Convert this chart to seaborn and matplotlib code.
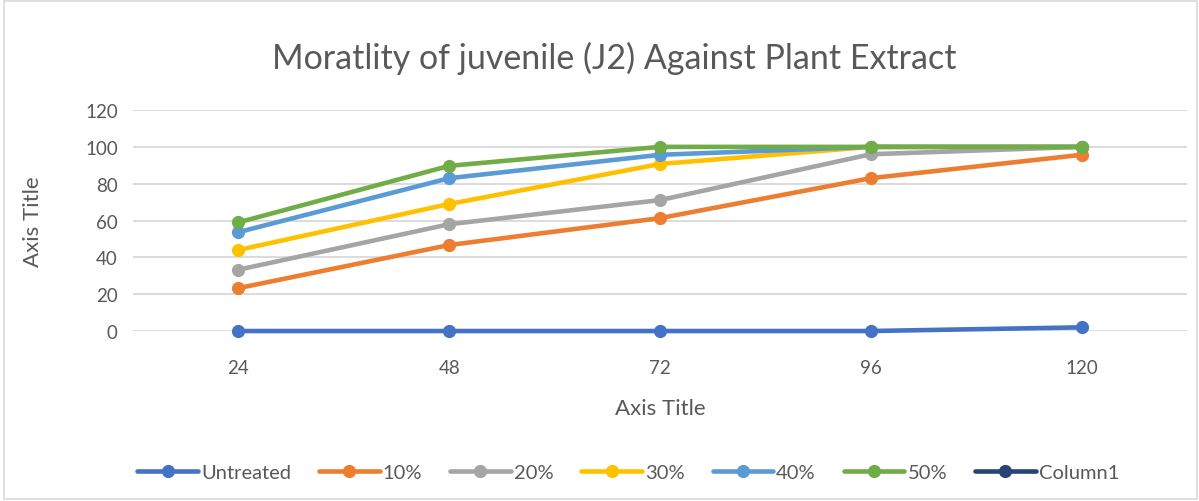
import matplotlib
matplotlib.use("Agg")
import matplotlib.pyplot as plt
from matplotlib.lines import Line2D
from matplotlib.patches import Rectangle
import seaborn as sns
import pandas as pd

hours = ["24", "48", "72", "96", "120"]
untreated = [0, 0, 0, 0, 2]
c10 = [23.3, 46.7, 61.3, 83, 95.7]
c20 = [33.3, 58, 71.1, 96, 100]
c30 = [44, 69, 90.7, 100, 100]
c40 = [53.7, 83, 95.7, 100, 100]
c50 = [59, 89.7, 100, 100, 100]
series_names = ["Untreated", "10%", "20%", "30%", "40%", "50%", "Column1"]
series_values = [untreated, c10, c20, c30, c40, c50, [None] * 5]
colors = ["#4472C4", "#ED7D31", "#A5A5A5", "#FFC000", "#5B9BD5", "#70AD47", "#264478"]
yticks = [0, 20, 40, 60, 80, 100, 120]

rows = []
for name, vals in zip(series_names, series_values):
    for h, v in zip(hours, vals):
        if v is not None:
            rows.append({"Hours": h, "Mortality": v, "Series": name})
df = pd.DataFrame(rows)

sns.set_theme(style="white")
plt.rcParams["font.family"] = ["Lato", "DejaVu Sans"]
txt = "#595959"

fig = plt.figure(figsize=(11.99, 5.02), dpi=100)
ax = fig.add_axes([0.111, 0.3386, 0.879, 0.4402])

palette = dict(zip(series_names, colors))
plotted = [s for s in series_names if s in set(df["Series"])]
sns.lineplot(data=df, x="Hours", y="Mortality", hue="Series", hue_order=plotted,
             palette=palette, marker="o", markersize=9.5, markeredgewidth=0,
             linewidth=3.3, sort=False, ax=ax, legend=False)

ax.set_xlim(-0.5, len(hours) - 0.5)
ax.set_ylim(0, 120)
ax.set_yticks(yticks)
ax.set_yticklabels([str(t) for t in yticks])
ax.yaxis.grid(True, color="#d9d9d9", linewidth=1.3)
ax.xaxis.grid(False)
ax.set_axisbelow(True)
for sp in ax.spines.values():
    sp.set_visible(False)
ax.tick_params(axis="both", length=0, labelsize=13.5, labelcolor=txt)
ax.tick_params(axis="y", pad=11)
ax.tick_params(axis="x", pad=20)
for lbl in ax.get_lines():
    lbl.set_clip_on(False)

ax.set_xlabel("Axis Title", fontsize=16, color=txt, labelpad=16)
ax.set_ylabel("Axis Title", fontsize=16, color=txt, labelpad=30)
fig.text(0.512, 0.883, "Moratlity of juvenile (J2) Against Plant Extract",
         ha="center", va="center", fontsize=24.5, color=txt)

handles = [Line2D([0], [0], color=c, linewidth=3.3, marker="o", markersize=9.5,
                  markeredgewidth=0) for c in colors]
fig.legend(handles, series_names, loc="center", bbox_to_anchor=(0.524, 0.056),
           ncol=7, frameon=False, fontsize=14.5, handlelength=3.0,
           handletextpad=0.15, columnspacing=1.4, labelcolor=txt)

fig.patches.append(Rectangle((0.003, 0.003), 0.995, 0.994, transform=fig.transFigure,
                             fill=False, edgecolor="#d9d9d9", linewidth=1.2))

fig.savefig("out.png", dpi=100, facecolor="white")
